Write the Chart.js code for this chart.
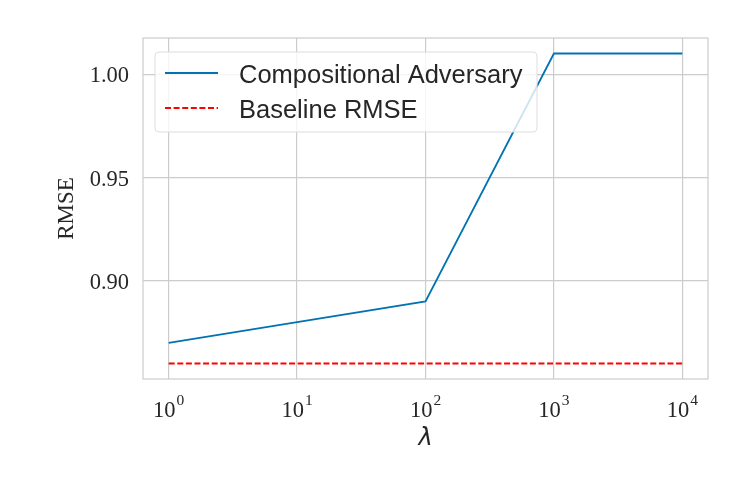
<!DOCTYPE html>
<html><head><meta charset="utf-8">
<script src="https://cdn.jsdelivr.net/npm/chart.js@4.4.0/dist/chart.umd.min.js"></script>
<style>html,body{margin:0;padding:0;background:#fff}#wrap{width:747px;height:498px}</style>
</head><body><div id="wrap"><canvas id="c" width="747" height="498"></canvas></div>
<script>
const lambdas = [1, 10, 100, 1000, 10000];
const advRMSE = [0.87, 0.88, 0.89, 1.01, 1.01];
const baseRMSE = [0.86, 0.86, 0.86, 0.86, 0.86];
const xTicks = [1, 10, 100, 1000, 10000];
const xTickBase = '10';
const xTickExp = ['0', '1', '2', '3', '4'];
const yTicks = [0.90, 0.95, 1.00];
const yTickLabels = ['0.90', '0.95', '1.00'];
const seriesNames = ['Compositional Adversary', 'Baseline RMSE'];

const GRID = '#cccccc';
const TXT = '#262626';
const frame = {
  id: 'frame',
  afterDraw(chart) {
    const {ctx, chartArea: a} = chart;
    ctx.save();
    ctx.strokeStyle = GRID; ctx.lineWidth = 1.2;
    ctx.strokeRect(a.left, a.top, a.right - a.left, a.bottom - a.top);
    // x tick labels with superscripts
    const xs = chart.scales.x;
    ctx.fillStyle = TXT; ctx.textBaseline = 'alphabetic'; ctx.textAlign = 'left';
    xTicks.forEach((v, i) => {
      const px = xs.getPixelForValue(v);
      ctx.font = '22.5px "Liberation Serif", serif';
      const w1 = ctx.measureText(xTickBase).width;
      ctx.font = '15.5px "Liberation Serif", serif';
      const w2 = ctx.measureText(xTickExp[i]).width;
      const x0 = px - (w1 + w2 + 1) / 2;
      ctx.font = '22.5px "Liberation Serif", serif';
      ctx.fillText(xTickBase, x0, 417);
      ctx.font = '15.5px "Liberation Serif", serif';
      ctx.fillText(xTickExp[i], x0 + w1 + 1, 404.5);
    });
    // y tick labels
    const ys = chart.scales.y;
    ctx.font = '22.5px "Liberation Serif", serif';
    ctx.textAlign = 'right';
    yTicks.forEach((v, i) => {
      ctx.fillText(yTickLabels[i], 129, ys.getPixelForValue(v) + 8);
    });
    // legend
    const bx = 155, by = 52, bw = 382, bh = 80, r = 4;
    ctx.fillStyle = 'rgba(255,255,255,0.8)';
    ctx.strokeStyle = '#dddddd'; ctx.lineWidth = 1;
    ctx.beginPath(); ctx.roundRect(bx, by, bw, bh, r); ctx.fill(); ctx.stroke();
    const ds = chart.data.datasets;
    const rows = [73, 108];
    ds.forEach((d, i) => {
      ctx.strokeStyle = d.borderColor; ctx.lineWidth = d.borderWidth;
      ctx.setLineDash(d.borderDash || []);
      ctx.beginPath(); ctx.moveTo(165, rows[i]); ctx.lineTo(218, rows[i]); ctx.stroke();
      ctx.setLineDash([]);
      ctx.fillStyle = TXT; ctx.font = '25.5px "Liberation Sans", Arial, sans-serif';
      ctx.textBaseline = 'alphabetic'; ctx.textAlign = 'left';
      ctx.fillText(d.label, 239, rows[i] + 9.5);
    });
    ctx.restore();
  }
};

new Chart(document.getElementById('c'), {
  type: 'line',
  data: {
    datasets: [
      { label: seriesNames[0], data: lambdas.map((x, i) => ({x, y: advRMSE[i]})),
        borderColor: '#0173b2', borderWidth: 1.8, pointRadius: 0, tension: 0, fill: false },
      { label: seriesNames[1], data: lambdas.map((x, i) => ({x, y: baseRMSE[i]})),
        borderColor: '#ff0000', borderWidth: 1.8, borderDash: [6, 2.6], pointRadius: 0, tension: 0, fill: false }
    ]
  },
  options: {
    responsive: false, animation: false, devicePixelRatio: 1,
    layout: { padding: { left: 53, top: 38, right: 39, bottom: 0 } },
    plugins: { legend: { display: false }, tooltip: { enabled: false } },
    scales: {
      x: {
        type: 'logarithmic', bounds: 'data', min: Math.pow(10, -0.2), max: Math.pow(10, 4.2),
        afterBuildTicks(s) { s.ticks = xTicks.map(v => ({value: v})); },
        afterFit(s) { s.height = 119; },
        grid: { color: GRID, lineWidth: 1.2, drawTicks: false },
        border: { display: false },
        ticks: { display: false },
        title: { display: true, text: 'λ', color: TXT, padding: { top: 0, bottom: 45 },
          font: { family: '"DejaVu Sans", sans-serif', size: 24, style: 'italic' } }
      },
      y: {
        bounds: 'data', min: 0.8525, max: 1.0175,
        afterBuildTicks(s) { s.ticks = yTicks.map(v => ({value: v})); },
        afterFit(s) { s.width = 90; },
        grid: { color: GRID, lineWidth: 1.2, drawTicks: false },
        border: { display: false },
        ticks: { display: false },
        title: { display: true, text: 'RMSE', color: TXT, padding: { top: 0, bottom: 0 },
          font: { family: '"Liberation Serif", serif', size: 23 } }
      }
    }
  },
  plugins: [frame]
});
</script></body></html>
